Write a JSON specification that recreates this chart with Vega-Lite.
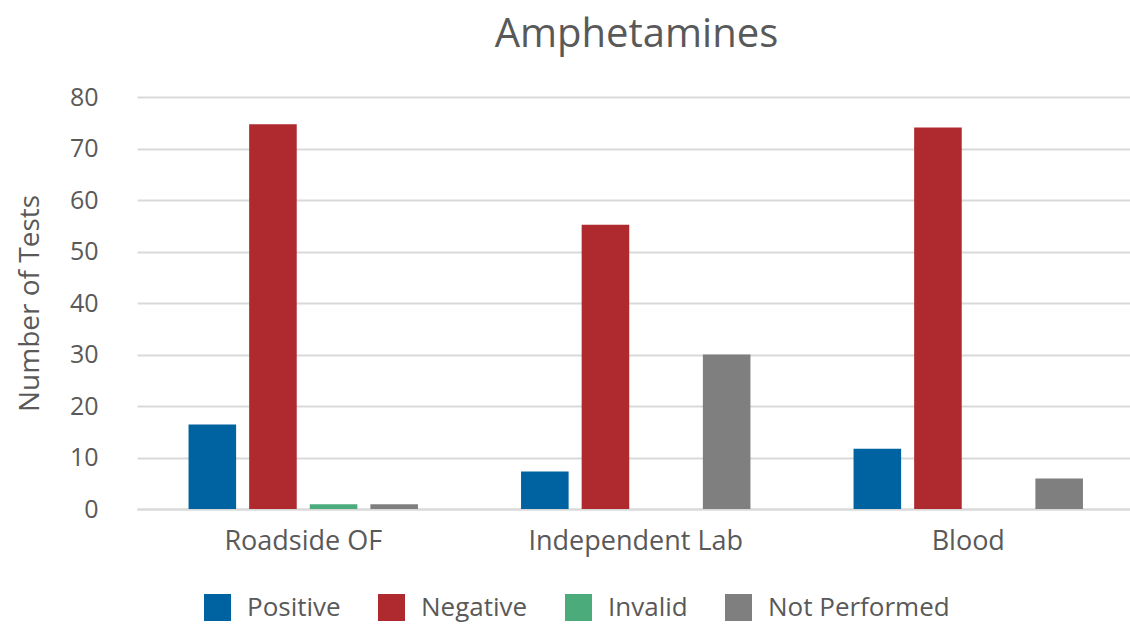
{
  "$schema": "https://vega.github.io/schema/vega-lite/v6.json",
  "autosize": {"type": "none"},
  "width": 993,
  "height": 412,
  "padding": {"left": 137, "top": 97, "right": 0, "bottom": 116},
  "background": "white",
  "title": {
    "text": "Amphetamines",
    "font": "Open Sans",
    "fontSize": 40,
    "fontWeight": "normal",
    "color": "#595959",
    "anchor": "middle",
    "frame": "group",
    "dx": 3,
    "offset": 30
  },
  "data": {
    "values": [
      {"test": "Roadside OF", "result": "Positive", "count": 16.4},
      {"test": "Roadside OF", "result": "Negative", "count": 74.7},
      {"test": "Roadside OF", "result": "Invalid", "count": 0.9},
      {"test": "Roadside OF", "result": "Not Performed", "count": 0.9},
      {"test": "Independent Lab", "result": "Positive", "count": 7.3},
      {"test": "Independent Lab", "result": "Negative", "count": 55.2},
      {"test": "Independent Lab", "result": "Invalid", "count": 0},
      {"test": "Independent Lab", "result": "Not Performed", "count": 30.0},
      {"test": "Blood", "result": "Positive", "count": 11.7},
      {"test": "Blood", "result": "Negative", "count": 74.1},
      {"test": "Blood", "result": "Invalid", "count": 0},
      {"test": "Blood", "result": "Not Performed", "count": 5.9}
    ]
  },
  "mark": {"type": "bar"},
  "encoding": {
    "x": {
      "field": "test",
      "type": "nominal",
      "sort": ["Roadside OF", "Independent Lab", "Blood"],
      "scale": {"range": [0, 997.5], "paddingInner": 0.31, "paddingOuter": 0.155},
      "axis": {
        "title": null,
        "labelAngle": 0,
        "labelFont": "Open Sans",
        "labelFontSize": 27,
        "labelColor": "#595959",
        "labelPadding": 19,
        "labelLimit": 0,
        "ticks": false,
        "domainColor": "#D9D9D9",
        "domainWidth": 2
      }
    },
    "xOffset": {
      "field": "result",
      "type": "nominal",
      "sort": ["Positive", "Negative", "Invalid", "Not Performed"],
      "scale": {"paddingInner": 0.215}
    },
    "y": {
      "field": "count",
      "type": "quantitative",
      "scale": {"domain": [0, 80], "nice": false},
      "axis": {
        "title": "Number of Tests",
        "titleFont": "Open Sans",
        "titleFontSize": 28,
        "titleFontWeight": "normal",
        "titleColor": "#595959",
        "titlePadding": 25,
        "values": [0, 10, 20, 30, 40, 50, 60, 70, 80],
        "labelFont": "Open Sans",
        "labelFontSize": 25,
        "labelColor": "#595959",
        "labelPadding": 39,
        "ticks": false,
        "domain": false,
        "gridColor": "#D9D9D9",
        "gridWidth": 2
      }
    },
    "color": {
      "field": "result",
      "type": "nominal",
      "sort": ["Positive", "Negative", "Invalid", "Not Performed"],
      "scale": {
        "domain": ["Positive", "Negative", "Invalid", "Not Performed"],
        "range": ["#0063A1", "#AE2A2F", "#4BAB7A", "#7F7F7F"]
      },
      "legend": {
        "title": null,
        "orient": "none",
        "legendX": 67,
        "legendY": 497,
        "direction": "horizontal",
        "columns": 4,
        "symbolType": "square",
        "symbolSize": 729,
        "symbolStrokeWidth": 0,
        "symbolOpacity": 1,
        "labelFont": "Open Sans",
        "labelFontSize": 26,
        "labelColor": "#595959",
        "labelOffset": 16,
        "labelLimit": 0,
        "columnPadding": 37
      }
    }
  },
  "config": {
    "view": {"stroke": null}
  }
}
